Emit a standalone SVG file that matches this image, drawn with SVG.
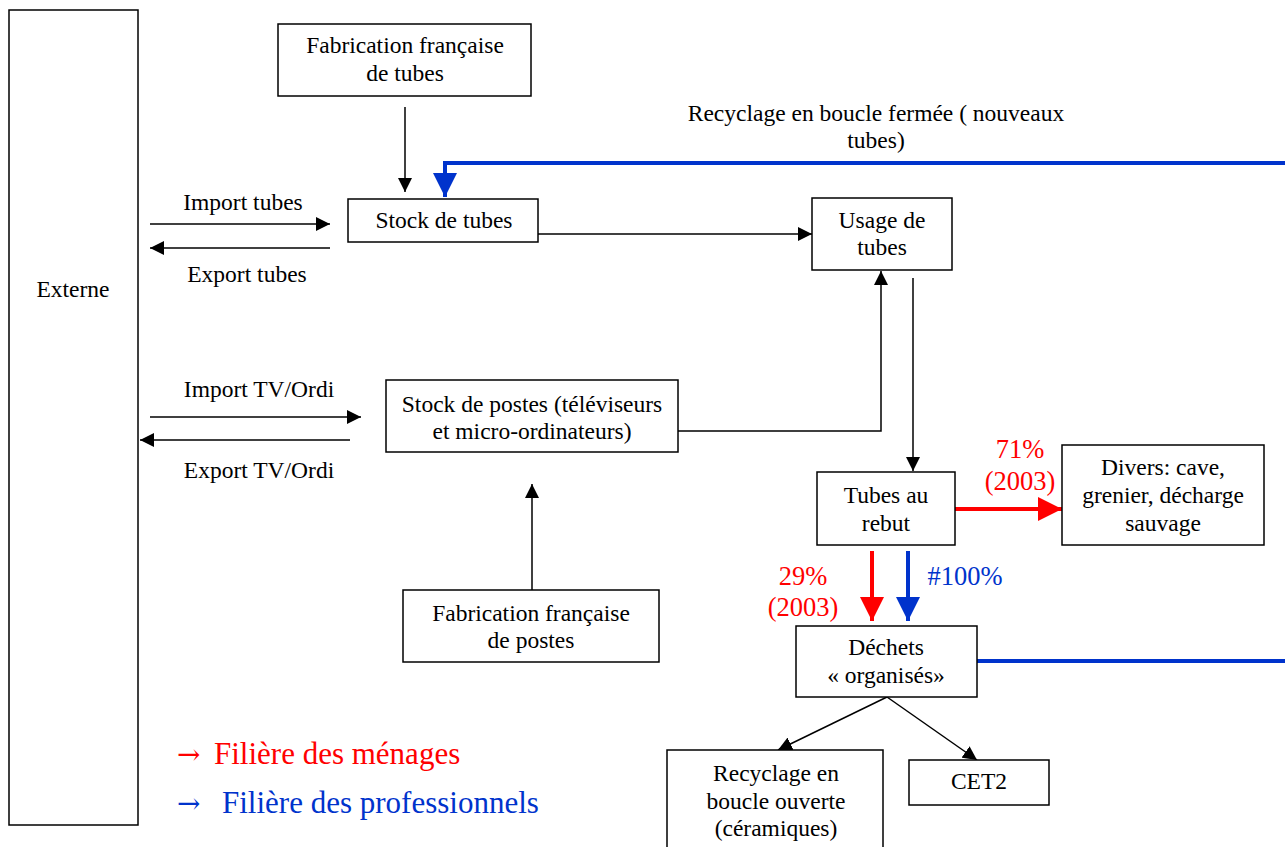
<svg xmlns="http://www.w3.org/2000/svg" width="1285" height="847" viewBox="0 0 1285 847">
  <style>
    .box { fill: #fff; stroke: #000; stroke-width: 1.5; }
    .t { font-family: "Liberation Serif", "Times New Roman", serif; font-size: 23.5px; fill: #000; text-anchor: middle; }
    .pc { font-size: 26.5px; }
    .red { fill: #ff0000; }
    .blue { fill: #0033cc; }
    .ln { fill: none; stroke: #000; stroke-width: 1.5; }
    .rl { fill: none; stroke: #ff0000; stroke-width: 4; }
    .bl { fill: none; stroke: #0033cc; stroke-width: 4; }
    .leg { font-family: "Liberation Serif", "Times New Roman", serif; font-size: 31px; }
    .legarrow { font-family: "DejaVu Serif", "Liberation Serif", serif; font-size: 28px; }
  </style>
  <defs>
    <marker id="ah" markerUnits="userSpaceOnUse" markerWidth="16" markerHeight="14" refX="14" refY="7" orient="auto">
      <path d="M0,0 L14,7 L0,14 Z" fill="#000"/>
    </marker>
    <marker id="ahr" markerUnits="userSpaceOnUse" markerWidth="26" markerHeight="24" refX="24" refY="12" orient="auto">
      <path d="M0,0 L24,12 L0,24 Z" fill="#ff0000"/>
    </marker>
    <marker id="ahb" markerUnits="userSpaceOnUse" markerWidth="26" markerHeight="24" refX="24" refY="12" orient="auto">
      <path d="M0,0 L24,12 L0,24 Z" fill="#0033cc"/>
    </marker>
  </defs>

  <!-- connectors -->
  <g id="connectors">
    <line class="ln" x1="405" y1="107" x2="405" y2="192" marker-end="url(#ah)"/>
    <polyline class="bl" points="1285,163 445,163 445,197" marker-end="url(#ahb)"/>
    <line class="ln" x1="150" y1="224" x2="330" y2="224" marker-end="url(#ah)"/>
    <line class="ln" x1="330" y1="248" x2="150" y2="248" marker-end="url(#ah)"/>
    <line class="ln" x1="538" y1="234" x2="812" y2="234" marker-end="url(#ah)"/>
    <line class="ln" x1="150" y1="417" x2="361" y2="417" marker-end="url(#ah)"/>
    <line class="ln" x1="350" y1="440" x2="140" y2="440" marker-end="url(#ah)"/>
    <polyline class="ln" points="678,431 881,431 881,271" marker-end="url(#ah)"/>
    <line class="ln" x1="913" y1="278" x2="913" y2="471" marker-end="url(#ah)"/>
    <line class="ln" x1="532" y1="590" x2="532" y2="484" marker-end="url(#ah)"/>
    <line class="rl" x1="955" y1="509" x2="1062" y2="509" marker-end="url(#ahr)"/>
    <line class="rl" x1="872" y1="551" x2="872" y2="621" marker-end="url(#ahr)"/>
    <line class="bl" x1="908" y1="551" x2="908" y2="621" marker-end="url(#ahb)"/>
    <line class="bl" x1="977" y1="661" x2="1285" y2="661"/>
    <line class="ln" x1="887" y1="697" x2="778" y2="750" marker-end="url(#ah)"/>
    <line class="ln" x1="887" y1="697" x2="977" y2="760" marker-end="url(#ah)"/>
  </g>

  <!-- connector labels -->
  <g id="labels">
    <text class="t" x="243" y="210">Import tubes</text>
    <text class="t" x="247" y="282">Export tubes</text>
    <text class="t" x="876" y="121">Recyclage en boucle fermée ( nouveaux</text>
    <text class="t" x="876" y="148">tubes)</text>
    <text class="t" x="259" y="397">Import TV/Ordi</text>
    <text class="t" x="259" y="478">Export TV/Ordi</text>
    <text class="t pc red" x="1020" y="458">71%</text>
    <text class="t pc red" x="1020" y="490">(2003)</text>
    <text class="t pc red" x="803" y="585">29%</text>
    <text class="t pc red" x="803" y="616">(2003)</text>
    <text class="t pc blue" x="965" y="585">#100%</text>
  </g>

  <g id="externe">
    <rect class="box" x="9" y="10" width="129" height="815"/>
    <text class="t" x="73" y="297">Externe</text>
  </g>

  <g id="fab-tubes">
    <rect class="box" x="278" y="24" width="253" height="72"/>
    <text class="t" x="405" y="53">Fabrication française</text>
    <text class="t" x="405" y="81">de tubes</text>
  </g>

  <g id="stock-tubes">
    <rect class="box" x="348" y="199" width="190" height="43"/>
    <text class="t" x="444" y="228">Stock de tubes</text>
  </g>

  <g id="usage-tubes">
    <rect class="box" x="812" y="198" width="140" height="72"/>
    <text class="t" x="882" y="228">Usage de</text>
    <text class="t" x="882" y="255">tubes</text>
  </g>

  <g id="stock-postes">
    <rect class="box" x="386" y="380" width="292" height="72"/>
    <text class="t" x="532" y="412">Stock de postes (téléviseurs</text>
    <text class="t" x="532" y="439">et micro-ordinateurs)</text>
  </g>

  <g id="fab-postes">
    <rect class="box" x="403" y="590" width="256" height="72"/>
    <text class="t" x="531" y="621">Fabrication française</text>
    <text class="t" x="531" y="648">de postes</text>
  </g>

  <g id="tubes-rebut">
    <rect class="box" x="817" y="472" width="138" height="73"/>
    <text class="t" x="886" y="503">Tubes au</text>
    <text class="t" x="886" y="531">rebut</text>
  </g>

  <g id="divers">
    <rect class="box" x="1062" y="445" width="202" height="100"/>
    <text class="t" x="1163" y="475">Divers: cave,</text>
    <text class="t" x="1163" y="503">grenier, décharge</text>
    <text class="t" x="1163" y="531">sauvage</text>
  </g>

  <g id="dechets">
    <rect class="box" x="796" y="626" width="181" height="71"/>
    <text class="t" x="886" y="655">Déchets</text>
    <text class="t" x="886" y="683">« organisés»</text>
  </g>

  <g id="recyclage-ouvert">
    <rect class="box" x="667" y="750" width="216" height="110"/>
    <text class="t" x="776" y="781">Recyclage en</text>
    <text class="t" x="776" y="809">boucle ouverte</text>
    <text class="t" x="776" y="836">(céramiques)</text>
  </g>

  <g id="cet2">
    <rect class="box" x="909" y="760" width="140" height="45"/>
    <text class="t" x="979" y="789">CET2</text>
  </g>

  <g id="legend">
    <text class="leg" y="764" fill="#ff0000"><tspan class="legarrow" x="177">→</tspan><tspan x="214">Filière des ménages</tspan></text>
    <text class="leg" y="813" fill="#0033cc"><tspan class="legarrow" x="177">→</tspan><tspan x="222">Filière des professionnels</tspan></text>
  </g>
</svg>
